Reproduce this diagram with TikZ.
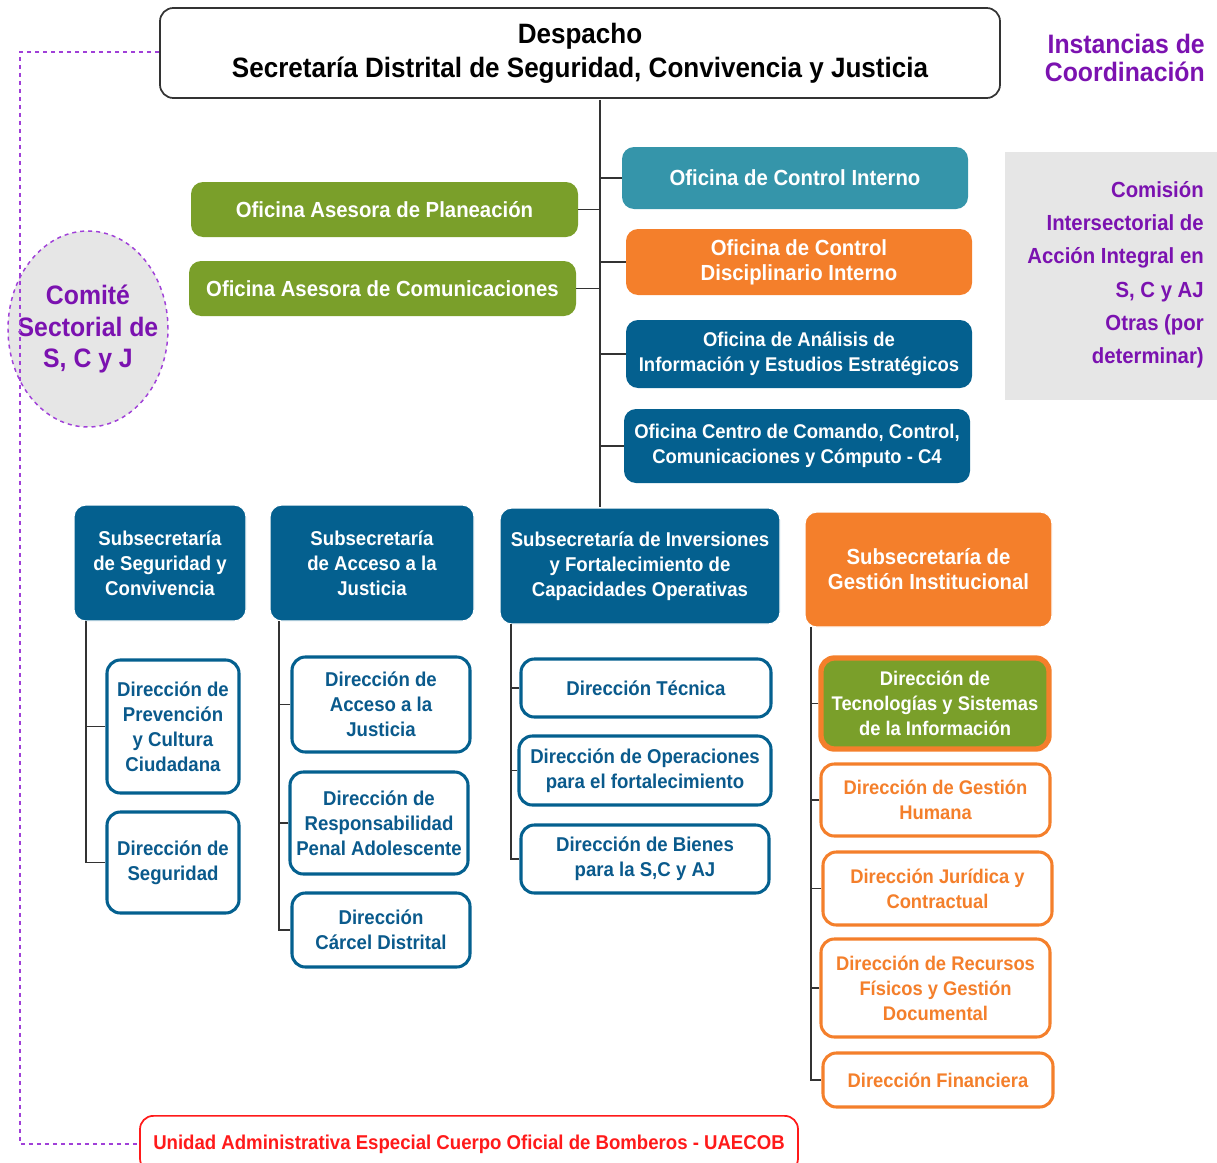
\documentclass[tikz,border=0pt]{standalone}
\usepackage{fontspec}
\setmainfont{Liberation Sans}[FakeStretch=0.93]
\usetikzlibrary{positioning,shapes.geometric}
\definecolor{blueD}{HTML}{04608F}
\definecolor{blueT}{HTML}{0A5A8C}
\definecolor{tealC}{HTML}{3595AA}
\definecolor{greenC}{HTML}{7A9F2A}
\definecolor{orangeC}{HTML}{F47F2B}
\definecolor{purpleT}{HTML}{7B12B0}
\definecolor{purpleL}{HTML}{A040D8}
\definecolor{grayC}{HTML}{E6E6E6}
\definecolor{redC}{HTML}{FF1A1A}
\definecolor{lineC}{HTML}{333333}
\tikzset{
  sz/.style 2 args={minimum width=#1*0.75pt, minimum height=#2*0.75pt, inner sep=0pt},
  fs/.style 2 args={font=\bfseries\fontsize{#1}{#2}\selectfont},
  filled/.style={rounded corners=9pt, align=center, text=white, fs={16.4}{18.75}},
  subbox/.style={filled, fill=blueD, draw=white, line width=0.8pt},
  childbox/.style={rounded corners=10pt, align=center, draw=blueD, line width=2.3pt, fill=white, text=blueT, fs={15}{18.75}},
  orbox/.style={rounded corners=10pt, align=center, draw=orangeC, line width=2.3pt, fill=white, text=orangeC, fs={14.8}{18.75}},
  conn/.style={draw=lineC, line width=1.2pt},
}
\begin{document}
\begin{tikzpicture}[x=0.75pt,y=-0.75pt]
\useasboundingbox (0,0) rectangle (1217,1163);
% Despacho
\node[draw=lineC, line width=1.3pt, rounded corners=10pt, fill=white, align=center, fs={21}{25.5}, sz={840}{90}] (desp) at (580,53) {Despacho\\Secretaría Distrital de Seguridad, Convivencia y Justicia};
% Instancias
\node[anchor=east, align=right, text=purpleT, fs={20}{21}, inner sep=0pt] (inst) at (1205,58) {Instancias de\\Coordinación};
% gray panel
\fill[grayC] (1005,152) rectangle (1217,400);
\node[anchor=north east, align=right, text=purpleT, fs={16.4}{25}, inner sep=0pt] (comis) at (1204,181) {Comisión\\Intersectorial de\\Acción Integral en\\S, C y AJ\\Otras (por\\determinar)};
% Comite
\node[ellipse, draw=purpleL, dashed, line width=1.1pt, fill=grayC, minimum width=160*0.75pt, minimum height=196*0.75pt, inner sep=0pt] (comite) at (88,329) {};
\node[align=center, text=purpleT, fs={20}{23.6}, inner sep=0pt] (comitet) at (comite.center) {Comité\\Sectorial de\\S, C y J};
% oficinas
\node[filled, fill=tealC, sz={346}{62}] (oci) at (795,178) {Oficina de Control Interno};
\node[filled, fill=greenC, sz={387}{55}] (oap) at (384.5,209.5) {Oficina Asesora de Planeación};
\node[filled, fill=greenC, sz={387}{55}] (oac) at (382.5,288.5) {Oficina Asesora de Comunicaciones};
\node[filled, fill=orangeC, sz={346}{66}] (ocd) at (799,262) {Oficina de Control\\Disciplinario Interno};
\node[filled, fill=blueD, sz={346}{68}, fs={14.9}{18.75}] (oai) at (799,354) {Oficina de Análisis de\\Información y Estudios Estratégicos};
\node[filled, fill=blueD, sz={346}{74}, fs={14.9}{18.75}] (occ) at (797,446) {Oficina Centro de Comando, Control,\\Comunicaciones y Cómputo - C4};
% trunk
\coordinate (tk) at (600,100);
% subsecretarias
\node[subbox, sz={172}{116}, fs={15}{18.75}] (s1) at (160,563) {Subsecretaría\\de Seguridad y\\Convivencia};
\node[subbox, sz={204}{116}, fs={15}{18.75}] (s2) at (372,563) {Subsecretaría\\de Acceso a la\\Justicia};
\node[subbox, sz={280}{116}, fs={15}{18.75}] (s3) at (640,566) {Subsecretaría de Inversiones\\y Fortalecimiento de\\Capacidades Operativas};
\node[filled, fill=orangeC, draw=white, line width=0.8pt, sz={247}{115}] (s4) at (928.5,569.5) {Subsecretaría de\\Gestión Institucional};
\draw[conn] (tk) -- (tk |- s3.north);
\foreach \n in {oci,ocd,oai,occ} {\draw[conn] (\n.west) -- (\n.west -| tk);}
\foreach \n in {oap,oac} {\draw[conn] (\n.east) -- (\n.east -| tk);}
% column 1
\node[childbox, sz={132}{133}] (d11) at (173,726.5) {Dirección de\\Prevención\\y Cultura\\Ciudadana};
\node[childbox, sz={132}{101}] (d12) at (173,862.5) {Dirección de\\Seguridad};
% column 2
\node[childbox, sz={178}{95}] (d21) at (381,704.5) {Dirección de\\Acceso a la\\Justicia};
\node[childbox, sz={178}{102}] (d22) at (379,823) {Dirección de\\Responsabilidad\\Penal Adolescente};
\node[childbox, sz={178}{74}] (d23) at (381,930) {Dirección\\Cárcel Distrital};
% column 3
\node[childbox, sz={250}{58}] (d31) at (646,688) {Dirección Técnica};
\node[childbox, sz={252}{69}] (d32) at (645,770.5) {Dirección de Operaciones\\para el fortalecimiento};
\node[childbox, sz={248}{68}] (d33) at (645,859) {Dirección de Bienes\\para la S,C y AJ};
% column 4
\node[rounded corners=10pt, align=center, draw=orangeC, line width=4pt, fill=greenC, text=white, fs={14.8}{18.75}, sz={228}{91}] (d41) at (935,703.5) {Dirección de\\Tecnologías y Sistemas\\de la Información};
\node[orbox, sz={229}{72}] (d42) at (935.5,800) {Dirección de Gestión\\Humana};
\node[orbox, sz={229}{73}] (d43) at (937.5,888.5) {Dirección Jurídica y\\Contractual};
\node[orbox, sz={229}{98}] (d44) at (935.5,988) {Dirección de Recursos\\Físicos y Gestión\\Documental};
\node[orbox, sz={230}{54}] (d45) at (938,1080) {Dirección Financiera};
% column trunks
\coordinate (c1) at (86,621);
\coordinate (c2) at (279,621);
\coordinate (c3) at (511,624);
\coordinate (c4) at (811,627);
\draw[conn] (c1) |- (d12.west);
\draw[conn] (d11.west) -- (d11.west -| c1);
\draw[conn] (c2) |- (d23.west);
\foreach \n in {d21,d22} {\draw[conn] (\n.west) -- (\n.west -| c2);}
\draw[conn] (c3) |- (d33.west);
\foreach \n in {d31,d32} {\draw[conn] (\n.west) -- (\n.west -| c3);}
\draw[conn] (c4) |- (d45.west);
\foreach \n in {d41,d42,d43,d44} {\draw[conn] (\n.west) -- (\n.west -| c4);}
% Bomberos
\node[rounded corners=10pt, draw=redC, line width=1.3pt, fill=white, sz={658}{56}, anchor=north] (bomb) at (469,1115) {};
\node[text=redC, fs={15}{19}, inner sep=0pt] (bombt) at (469,1144) {Unidad Administrativa Especial Cuerpo Oficial de Bomberos - UAECOB};
% dashed line
\coordinate (dl) at (20,52);
\draw[purpleL, dashed, line width=1.1pt] (desp.west |- dl) -- (dl) -- (dl |- bombt) -- (bomb.west |- bombt);
\end{tikzpicture}
\end{document}
